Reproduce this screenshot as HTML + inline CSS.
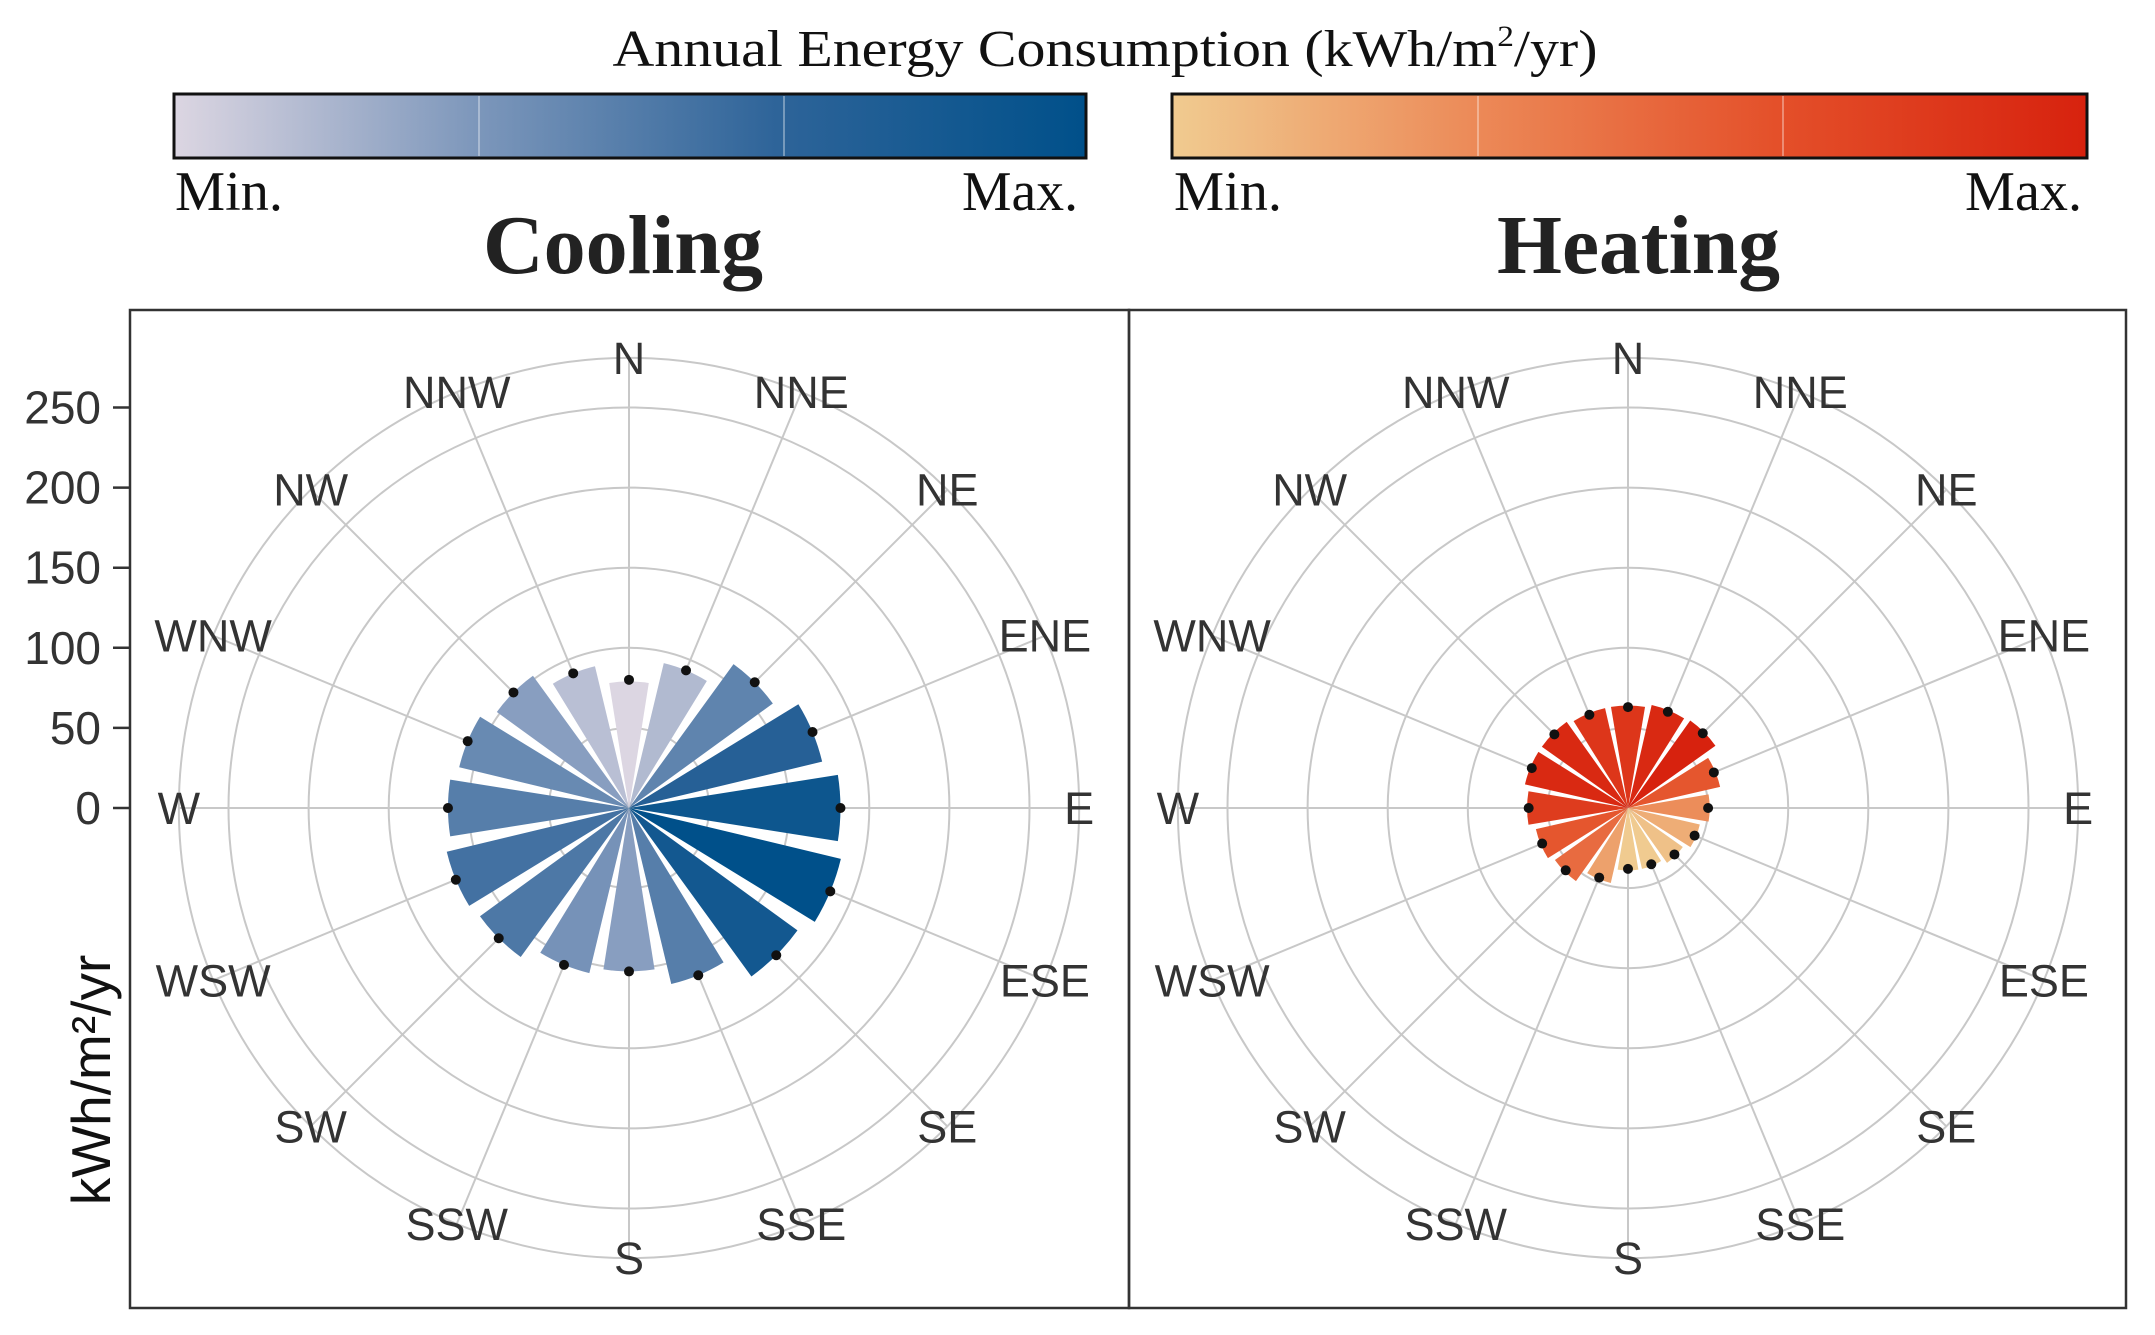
<!DOCTYPE html>
<html><head><meta charset="utf-8"><style>
html,body{margin:0;padding:0;background:#fff;}
svg{display:block;}
</style></head><body>
<svg id="chart" width="2155" height="1335" viewBox="0 0 2155 1335" xmlns="http://www.w3.org/2000/svg">
<defs>
<linearGradient id="gBlue" x1="0" x2="1" y1="0" y2="0"><stop offset="0" stop-color="#dcd6e2"/><stop offset="0.33" stop-color="#7d97bb"/><stop offset="0.66" stop-color="#2e6499"/><stop offset="1" stop-color="#00508a"/></linearGradient>
<linearGradient id="gRed" x1="0" x2="1" y1="0" y2="0"><stop offset="0" stop-color="#f0cb90"/><stop offset="0.33" stop-color="#ec8a58"/><stop offset="0.66" stop-color="#e4502a"/><stop offset="1" stop-color="#d7220e"/></linearGradient>
</defs>
<text x="1105" y="66" font-family="Liberation Serif, serif" font-size="52" fill="#111" text-anchor="middle" textLength="985" lengthAdjust="spacingAndGlyphs">Annual Energy Consumption (kWh/m<tspan font-size="30" dy="-20">2</tspan><tspan dy="20">/yr)</tspan></text>
<rect x="174" y="94" width="912" height="64" fill="url(#gBlue)" stroke="#111" stroke-width="3"/>
<line x1="479" y1="96" x2="479" y2="156" stroke="#fff" stroke-opacity="0.35" stroke-width="2"/>
<line x1="784" y1="96" x2="784" y2="156" stroke="#fff" stroke-opacity="0.35" stroke-width="2"/>
<rect x="1172" y="94" width="915" height="64" fill="url(#gRed)" stroke="#111" stroke-width="3"/>
<line x1="1478" y1="96" x2="1478" y2="156" stroke="#fff" stroke-opacity="0.35" stroke-width="2"/>
<line x1="1783" y1="96" x2="1783" y2="156" stroke="#fff" stroke-opacity="0.35" stroke-width="2"/>
<g font-family="Liberation Serif, serif" font-size="56" fill="#111">
<text x="175" y="210" textLength="108" lengthAdjust="spacingAndGlyphs">Min.</text>
<text x="962" y="210" textLength="116" lengthAdjust="spacingAndGlyphs">Max.</text>
<text x="1174" y="210" textLength="108" lengthAdjust="spacingAndGlyphs">Min.</text>
<text x="1965" y="210" textLength="117" lengthAdjust="spacingAndGlyphs">Max.</text>
</g>
<g font-family="Liberation Serif, serif" font-size="84" font-weight="bold" fill="#222">
<text x="483" y="273" textLength="280" lengthAdjust="spacingAndGlyphs">Cooling</text>
<text x="1497" y="273" textLength="283" lengthAdjust="spacingAndGlyphs">Heating</text>
</g>
<rect x="130" y="310" width="999" height="998" fill="none" stroke="#333" stroke-width="2.5"/>
<rect x="1129" y="310" width="997" height="998" fill="none" stroke="#333" stroke-width="2.5"/>
<text transform="translate(110,1080) rotate(-90)" font-family="Liberation Sans, sans-serif" font-size="55" fill="#111" text-anchor="middle">kWh/m²/yr</text>
<g id="yaxis"></g>
<g id="cool"></g>
<g id="heat"></g>
</svg>
<script>
const directions = ["N","NNE","NE","ENE","E","ESE","SE","SSE","S","SSW","SW","WSW","W","WNW","NW","NNW"];
const coolingBars = [79,93,111,124,132,136,130,113,102,106,115,117,113,109,102,91];
const coolingDots = [80,93,111,124,132,136,130,113,102,106,115,117,113,109,102,91];
const heatingBars = [64,66,67,59,51,46,42,39,39,48,56,59,63,66,66,64];
const heatingDots = [63,65,66,58,50,45,41,38,38,47,55,58,62,65,65,63];
const yTicks = [0,50,100,150,200,250];
const gridRings = [50,100,150,200,250];

const NS='http://www.w3.org/2000/svg';
const CY=808, K=1.602, OUTER=281, LABELR=281;
function r(v){return v*K;}
function el(tag,attrs,parent){const e=document.createElementNS(NS,tag);for(const k in attrs)e.setAttribute(k,attrs[k]);parent.appendChild(e);return e;}
function ang(i){return i*2*Math.PI/directions.length;}
function pt(cx,i,v,off){const a=ang(i)+(off||0);return [cx+r(v)*Math.sin(a),CY-r(v)*Math.cos(a)];}
function mix(c1,c2,t){return 'rgb('+c1.map((c,j)=>Math.round(c+(c2[j]-c)*t)).join(',')+')';}
function colorFor(stops,t){t=Math.pow(t,1.35);const n=stops.length-1;const s=Math.min(n-1,Math.floor(t*n));return mix(stops[s],stops[s+1],t*n-s);}
const blueStops=[[220,214,226],[125,151,187],[46,100,153],[0,80,138]];
const redStops=[[240,203,144],[236,138,88],[228,80,42],[215,34,14]];

const ya=document.getElementById('yaxis');
yTicks.forEach(t=>{
  const y=CY-r(t);
  const tk=el('line',{x1:113,x2:130,y1:y,y2:y,stroke:'#333','stroke-width':2.5},ya);
  
  
  const tx=el('text',{x:101,y:y+16,'text-anchor':'end','font-family':'Liberation Sans, sans-serif','font-size':46,fill:'#333'},ya);
  tx.textContent=t;
  
  
});

function drawPanel(g,cx,bars,dots,stops,name,widthFrac){
  gridRings.concat([OUTER]).forEach(v=>{
    const c=el('circle',{cx:cx,cy:CY,r:r(v),fill:'none',stroke:'#c8c8c8','stroke-width':2},g);
    
    
  });
  directions.forEach((d,i)=>{
    const p=pt(cx,i,OUTER);
    const l=el('line',{x1:cx,y1:CY,x2:p[0],y2:p[1],stroke:'#c8c8c8','stroke-width':2},g);
    
    
  });
  const mn=Math.min(...bars), mx=Math.max(...bars);
  const half=Math.PI/directions.length*widthFrac;
  bars.forEach((v,i)=>{
    const a=pt(cx,i,v,-half), b=pt(cx,i,v,half);
    const path=el('path',{d:`M${cx},${CY} L${a[0]},${a[1]} A${r(v)},${r(v)} 0 0 1 ${b[0]},${b[1]} Z`,fill:colorFor(stops,(v-mn)/(mx-mn||1))},g);
    
    
  });
  dots.forEach((v,i)=>{
    const p=pt(cx,i,v);
    const c=el('circle',{cx:p[0],cy:p[1],r:5,fill:'#111'},g);
    
    
  });
  directions.forEach((d,i)=>{
    const p=pt(cx,i,LABELR);
    const t=el('text',{x:p[0],y:p[1]+16,'text-anchor':'middle','font-family':'Liberation Sans, sans-serif','font-size':45,fill:'#333'},g);
    t.textContent=d;
    
    
  });
}
drawPanel(document.getElementById('cool'),629,coolingBars,coolingDots,blueStops,'cooling',0.8);
drawPanel(document.getElementById('heat'),1628,heatingBars,heatingDots,redStops,'heating',0.85);
</script>
</body></html>
